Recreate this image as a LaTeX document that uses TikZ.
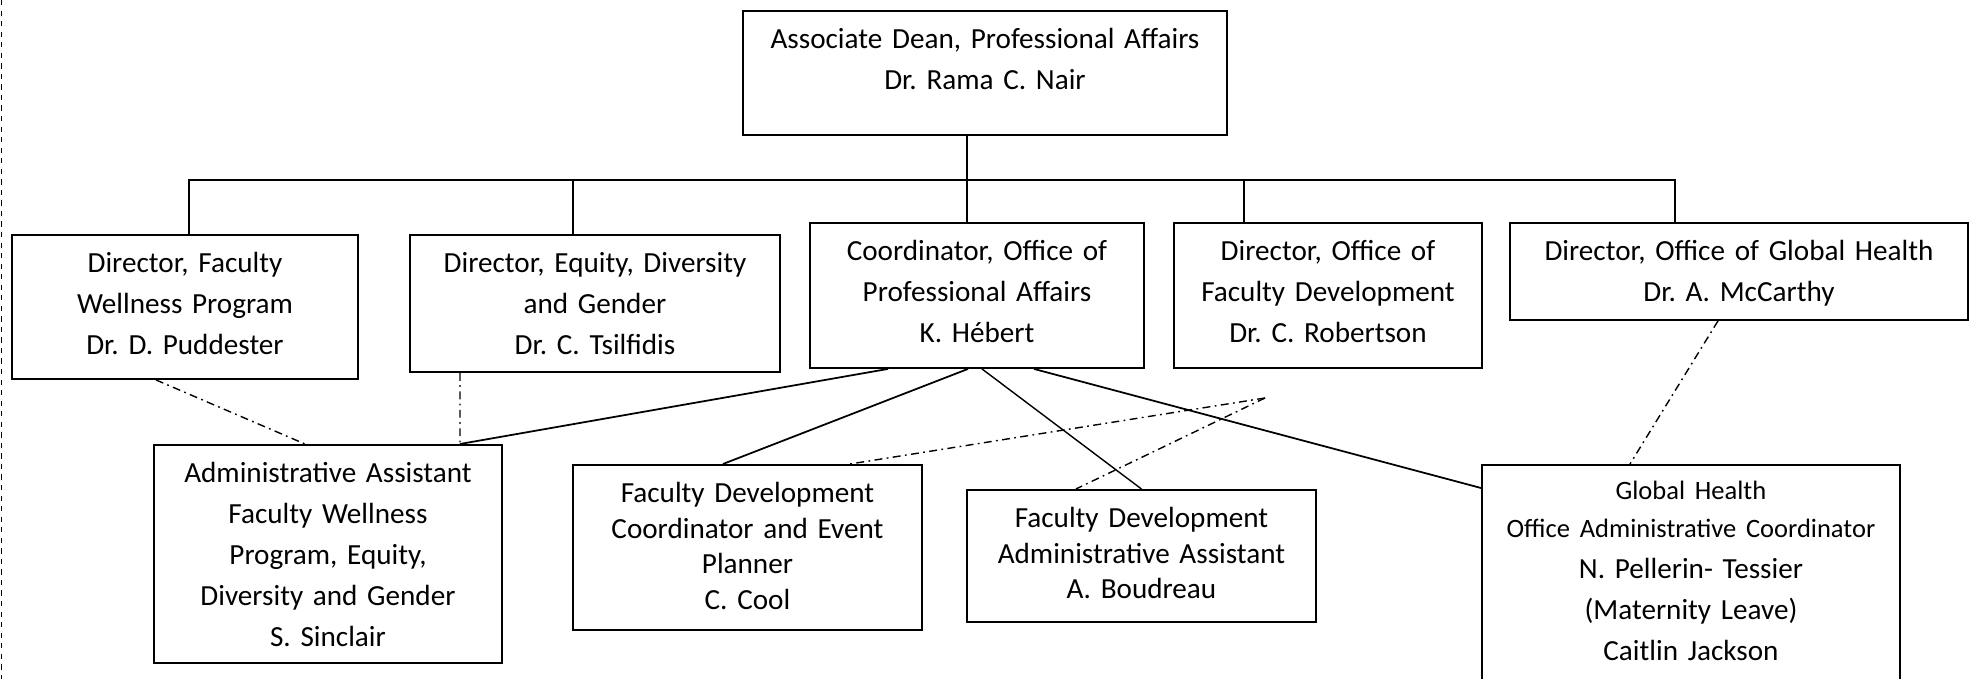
\documentclass[tikz,border=0pt]{standalone}
\usepackage{fontspec}
\setmainfont{Carlito}
\frenchspacing
\newcommand{\orgsize}{\fontsize{16.6pt}{23.3pt}\selectfont}
\newcommand{\orgtight}{\fontsize{16.6pt}{20.2pt}\selectfont}
\newcommand{\orgsmall}{\fontsize{15.1pt}{21.6pt}\selectfont}
\tikzset{
	orgbox/.append style={
		draw,
		line width=1.1pt,
		inner sep=0pt,
		align=center,
		anchor=north west,
		text height=0.76cm,
		font=\orgsize
	},
	tightbox/.append style={
		font=\orgtight
	},
	reportline/.append style={
		line width=1pt
	},
	advisory/.append style={
		line width=0.8pt,
		dash pattern=on 4.5pt off 2.5pt on 1pt off 2.5pt
	}
}

\begin{document}
\begin{tikzpicture}
			\useasboundingbox (0,0) rectangle (39.5,-13.58);
			\clip (0,0) rectangle (39.5,-13.58);
			\draw[dashed, line width=0.6pt] (0.03,0) -- (0.03,-13.58);

			\node(dean)[orgbox, text width=9.68cm, text depth=1.72cm] at (14.84,-0.20) {Associate Dean, Professional Affairs\\ Dr. Rama C. Nair};

			% directors row
			\node(wellness)[orgbox, text width=6.92cm, text depth=2.12cm] at (0.22,-4.68) {Director, Faculty\\ Wellness Program\\ Dr. D. Puddester};
			\node(equity)[orgbox, text width=7.40cm, text depth=1.98cm] at (8.18,-4.68) {Director, Equity, Diversity\\ and Gender\\ Dr. C. Tsilfidis};
			\node(coordpa)[orgbox, text width=6.68cm, text depth=2.14cm] at (16.18,-4.44) {Coordinator, Office of\\ Professional Affairs\\ K. Hébert};
			\node(facdev)[orgbox, text width=6.16cm, text depth=2.14cm] at (23.46,-4.44) {Director, Office of\\ Faculty Development\\ Dr. C. Robertson};
			\node(globaldir)[orgbox, text width=9.16cm, text depth=1.18cm] at (30.18,-4.44) {Director, Office of Global Health\\ Dr. A. McCarthy};

			% staff row
			\node(adminasst)[orgbox, text width=6.96cm, text depth=3.60cm] at (3.06,-8.88) {Administrative Assistant\\ Faculty Wellness\\ Program, Equity,\\ Diversity and Gender\\ S. Sinclair};
			\node(fdcoord)[orgbox, tightbox, text width=6.98cm, text depth=2.54cm] at (11.44,-9.28) {Faculty Development\\ Coordinator and Event\\ Planner\\ C. Cool};
			\node(fdadmin)[orgbox, tightbox, text width=6.98cm, text depth=1.88cm] at (19.32,-9.78) {Faculty Development\\ Administrative Assistant\\ A. Boudreau};
			\node(ghcoord)[orgbox, text width=8.36cm, text height=0.70cm, text depth=3.90cm] at (29.62,-9.28) {\orgsmall Global Health\\ Office Administrative Coordinator\\ \orgsize N. Pellerin- Tessier\\ (Maternity Leave)\\ Caitlin Jackson};

			\coordinate(busleft) at (3.78,-3.60);
			\coordinate(busright) at (33.50,-3.60);
			\coordinate(dropequity) at (11.46,-3.60);
			\coordinate(dropcoord) at (19.34,-3.60);
			\coordinate(dropfacdev) at (24.88,-3.60);
			\coordinate(fdlink) at (25.30,-7.96);

			\draw[reportline] (wellness.north -| busleft) -- (busleft) -- (busright) -- (busright |- globaldir.north);
			\draw[reportline] (dean.south -| dropcoord) -- (dropcoord |- coordpa.north);
			\draw[reportline] (dropequity) -- (dropequity |- equity.north);
			\draw[reportline] (dropfacdev) -- (dropfacdev |- facdev.north);

			\draw[reportline] ([xshift=-1.78cm]coordpa.south) -- ([xshift=2.64cm]adminasst.north);
			\draw[reportline] ([xshift=-0.18cm]coordpa.south) -- ([xshift=-0.49cm]fdcoord.north);
			\draw[reportline, line width=0.8pt] ([xshift=0.10cm]coordpa.south) -- (fdadmin.north);
			\draw[reportline] ([xshift=1.14cm]coordpa.south) -- ([yshift=-0.48cm]ghcoord.north west);

			\draw[advisory] ([xshift=-0.58cm]wellness.south) -- ([xshift=-0.46cm]adminasst.north);
			\draw[advisory] ([xshift=-2.70cm]equity.south) -- ([xshift=2.64cm]adminasst.north);
			\draw[advisory] (fdlink) -- ([xshift=2.05cm]fdcoord.north);
			\draw[advisory] (fdlink) -- ([xshift=-1.31cm]fdadmin.north);
			\draw[advisory] ([xshift=-0.42cm]globaldir.south) -- ([xshift=-1.22cm]ghcoord.north);
\end{tikzpicture}
\end{document}
